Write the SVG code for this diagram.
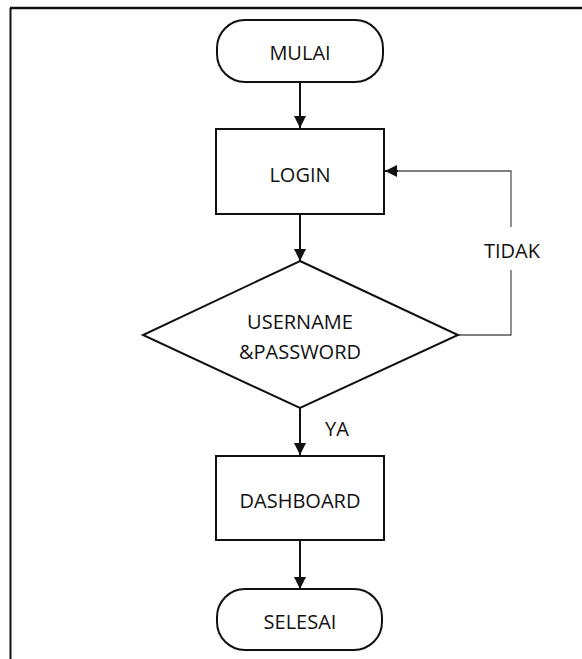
<svg xmlns="http://www.w3.org/2000/svg" width="582" height="659" viewBox="0 0 582 659">
  <style>
    .shape { fill: #ffffff; stroke: #111111; stroke-width: 2; }
    .label { font-family: "Open Sans", "Noto Sans", "Liberation Sans", sans-serif; font-size: 20px; fill: #111111; text-anchor: middle; }
    .flow { fill: none; stroke: #111111; stroke-width: 2; }
    .back { fill: none; stroke: #555555; stroke-width: 1.3; }
  </style>
  <defs>
    <marker id="arrow" viewBox="0 0 12 12" refX="12" refY="6" markerWidth="12" markerHeight="12" markerUnits="userSpaceOnUse" orient="auto">
      <path d="M0,0 L12,6 L0,12 Z" fill="#111111"/>
    </marker>
  </defs>

  <rect x="0" y="0" width="582" height="659" fill="#ffffff"/>

  <!-- page frame -->
  <g id="frame" fill="none" stroke="#111111">
    <line x1="10" y1="8" x2="582" y2="8" stroke-width="2.5"/>
    <line x1="10.5" y1="8" x2="10.5" y2="659" stroke-width="2"/>
  </g>

  <!-- connectors -->
  <g id="connectors">
    <line class="flow" x1="300" y1="82" x2="300" y2="128" marker-end="url(#arrow)"/>
    <line class="flow" x1="300" y1="214" x2="300" y2="261" marker-end="url(#arrow)"/>
    <line class="flow" x1="300" y1="408" x2="300" y2="455" marker-end="url(#arrow)"/>
    <line class="flow" x1="300" y1="540" x2="300" y2="589" marker-end="url(#arrow)"/>
    <polyline class="back" points="458,335 511,335 511,270"/>
    <polyline class="back" points="511,227 511,171 396,171"/>
    <line class="flow" x1="398" y1="171" x2="385" y2="171" marker-end="url(#arrow)"/>
    <text class="label" x="512" y="258">TIDAK</text>
    <text class="label" x="337" y="436">YA</text>
  </g>

  <g id="mulai">
    <rect class="shape" x="217" y="20" width="166" height="62" rx="28" ry="28"/>
    <text class="label" x="300" y="60">MULAI</text>
  </g>

  <g id="login">
    <rect class="shape" x="216" y="129" width="168" height="85"/>
    <text class="label" x="300" y="182">LOGIN</text>
  </g>

  <g id="cek-login">
    <polygon class="shape" points="300,261 458,335 300,408 143,335"/>
    <text class="label" x="300" y="329">USERNAME</text>
    <text class="label" x="300" y="359">&amp;PASSWORD</text>
  </g>

  <g id="dashboard">
    <rect class="shape" x="216" y="456" width="168" height="84"/>
    <text class="label" x="300" y="508">DASHBOARD</text>
  </g>

  <g id="selesai">
    <rect class="shape" x="217" y="589" width="165" height="61" rx="28" ry="28"/>
    <text class="label" x="300" y="629">SELESAI</text>
  </g>
</svg>
